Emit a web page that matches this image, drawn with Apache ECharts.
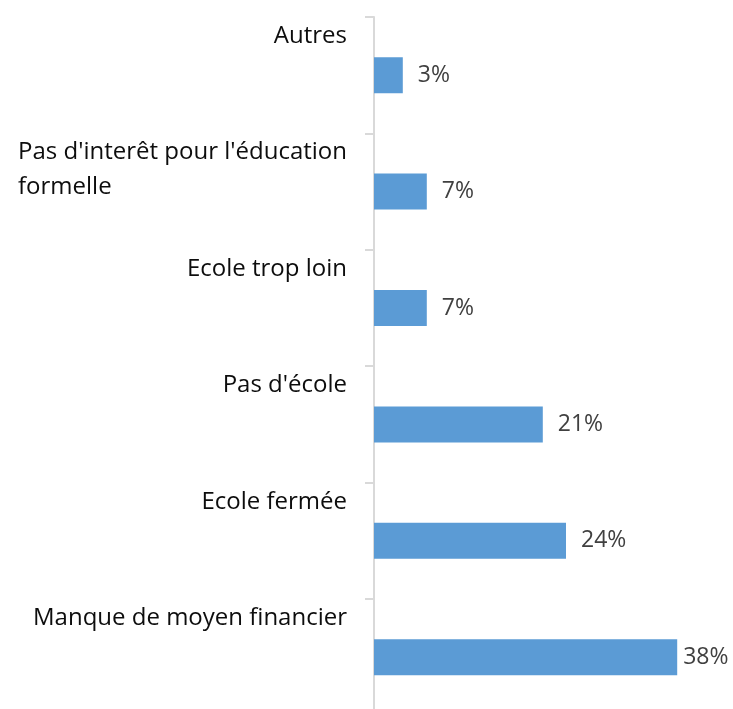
<!DOCTYPE html>
<html>
<head>
<meta charset="utf-8">
<script src="https://cdn.jsdelivr.net/npm/echarts@6/dist/echarts.min.js"></script>
<style>
html,body{margin:0;padding:0;background:#fff;overflow:hidden;}
#chart{width:733px;height:720px;}
</style>
</head>
<body>
<div id="chart"></div>
<script>
const categories = ['Autres', "Pas d'interêt pour l'éducation\nformelle", 'Ecole trop loin', "Pas d'école", 'Ecole fermée', 'Manque de moyen financier'];
const values = [3.6, 6.6, 6.6, 21.1, 24, 37.9];
const valueLabels = ['3%', '7%', '7%', '21%', '24%', '38%'];

const chart = echarts.init(document.getElementById('chart'));
chart.setOption({
  animation: false,
  grid: { left: 374, top: 17, width: 320, height: 698.4 },
  xAxis: { type: 'value', min: 0, max: 40, show: false, splitLine: { show: false } },
  yAxis: {
    type: 'category',
    inverse: true,
    data: categories,
    axisLine: { show: true, lineStyle: { color: '#d9d9d9', width: 2 } },
    axisTick: { show: true, length: 9, lineStyle: { color: '#d9d9d9', width: 2 } },
    axisLabel: {
      interval: 0,
      margin: 27,
      align: 'right',
      verticalAlign: 'middle',
      padding: [0, 0, 8, 0],
      formatter: function (v) {
        const lines = v.split('\n');
        while (lines.length < 3) lines.push(' ');
        return lines.map(l => '{a|' + l + '}').join('\n');
      },
      rich: {
        a: { fontFamily: 'Open Sans', fontSize: 24, lineHeight: 35, color: '#0d0d0d', align: 'left' }
      }
    }
  },
  series: [{
    type: 'bar',
    barWidth: 36,
    itemStyle: { color: '#5b9bd5' },
    data: values.map((v, i) => ({ value: v, label: i === values.length - 1 ? { distance: 6 } : undefined })),
    label: {
      show: true,
      position: 'right',
      distance: 15,
      fontFamily: 'Open Sans',
      fontSize: 23,
      color: '#404040',
      formatter: p => valueLabels[p.dataIndex]
    }
  }]
});
</script>
</body>
</html>
